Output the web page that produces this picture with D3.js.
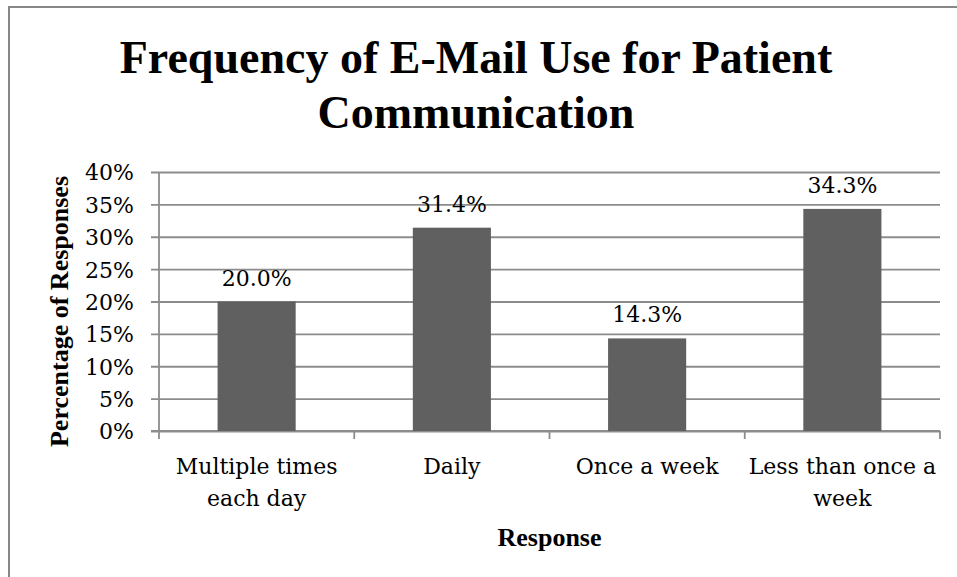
<!DOCTYPE html>
<html lang="en">
<head>
  <meta charset="UTF-8">
  <title>Frequency of E-Mail Use for Patient Communication</title>
  <script src="https://d3js.org/d3.v7.min.js"></script>
  <style>
    body {
      margin: 0;
      background: #fff;
    }
    .tick-label, .cat-label, .bar-label {
      font-family: 'DejaVu Serif', serif;
      font-size: 22px;
      fill: #000;
    }
    .chart-title, .axis-title {
      font-family: 'Liberation Serif', 'Times New Roman', serif;
      font-weight: bold;
      fill: #000;
    }
  </style>
</head>
<body>
  <svg id="chart" width="957" height="577"></svg>

  <script>
    // data
    const categories = [["Multiple times", "each day"], ["Daily"], ["Once a week"], ["Less than once a", "week"]];
    const values = [20.0, 31.4, 14.3, 34.3];
    const yTicks = [0, 5, 10, 15, 20, 25, 30, 35, 40];
    const titleLines = ["Frequency of E-Mail Use for Patient", "Communication"];

    const W = 957, H = 577;
    const margin = { top: 172, right: 17, bottom: 146, left: 159 };
    const width = W - margin.left - margin.right;
    const height = H - margin.top - margin.bottom;
    const gridColor = "#8c8c8c";

    const svg = d3.select("#chart");

    // outer frame (only top and left show inside the window)
    svg.append("path")
      .attr("d", `M9,${H} V7 H${W}`)
      .attr("fill", "none")
      .attr("stroke", "#878787")
      .attr("stroke-width", 2);

    // title
    svg.append("text")
      .attr("class", "chart-title")
      .attr("text-anchor", "middle")
      .style("font-size", "46px")
      .selectAll("tspan")
      .data(titleLines)
      .enter()
      .append("tspan")
      .attr("x", 476)
      .attr("y", (d, i) => 73 + i * 55)
      .text(d => d);

    const g = svg.append("g")
      .attr("transform", `translate(${margin.left},${margin.top})`);

    const keys = categories.map(c => c.join(" "));

    const x = d3.scaleBand()
      .domain(keys)
      .range([0, width])
      .paddingInner(0.6)
      .paddingOuter(0.3);

    const xEdges = d3.scaleLinear()
      .domain([0, keys.length])
      .range([0, width]);

    const y = d3.scaleLinear()
      .domain([0, 40])
      .range([height, 0]);

    // gridlines + y axis
    const yAxis = g.append("g")
      .call(d3.axisLeft(y).tickValues(yTicks).tickSize(-width).tickFormat(d => d + "%"));
    yAxis.attr("font-size", null).attr("font-family", null);
    yAxis.select(".domain").remove();
    yAxis.selectAll(".tick line")
      .attr("x1", -8)
      .attr("stroke", gridColor)
      .attr("stroke-width", 1.8);
    yAxis.selectAll(".tick text")
      .attr("class", "tick-label")
      .attr("x", -25)
      .attr("dy", "0.36em");

    g.append("line")
      .attr("x1", 0).attr("x2", 0)
      .attr("y1", 0).attr("y2", height)
      .attr("stroke", gridColor)
      .attr("stroke-width", 1.8);

    // x axis line and ticks at category boundaries
    g.append("line")
      .attr("x1", -8).attr("x2", width)
      .attr("y1", height).attr("y2", height)
      .attr("stroke", gridColor)
      .attr("stroke-width", 1.8);
    g.selectAll(".xtick")
      .data(d3.range(keys.length + 1))
      .enter()
      .append("line")
      .attr("x1", d => xEdges(d)).attr("x2", d => xEdges(d))
      .attr("y1", height).attr("y2", height + 8)
      .attr("stroke", gridColor)
      .attr("stroke-width", 1.8);

    // bars
    g.selectAll(".bar")
      .data(values)
      .enter()
      .append("rect")
      .attr("x", (d, i) => x(keys[i]))
      .attr("y", d => y(d))
      .attr("width", x.bandwidth())
      .attr("height", d => height - y(d))
      .attr("fill", "#606060");

    // value labels
    g.selectAll(".bar-label")
      .data(values)
      .enter()
      .append("text")
      .attr("class", "bar-label")
      .attr("text-anchor", "middle")
      .attr("x", (d, i) => x(keys[i]) + x.bandwidth() / 2)
      .attr("y", d => y(d) - 16)
      .text(d => d.toFixed(1) + "%");

    // category labels
    const cat = g.selectAll(".cat-label")
      .data(categories)
      .enter()
      .append("text")
      .attr("class", "cat-label")
      .attr("text-anchor", "middle");
    cat.selectAll("tspan")
      .data((d, i) => d.map(line => ({ line, i })))
      .enter()
      .append("tspan")
      .attr("x", d => x(keys[d.i]) + x.bandwidth() / 2)
      .attr("y", (d, j) => height + 43 + j * 32)
      .text(d => d.line);

    // axis titles
    g.append("text")
      .attr("class", "axis-title")
      .attr("text-anchor", "middle")
      .style("font-size", "26px")
      .attr("x", width / 2)
      .attr("y", height + 115)
      .text("Response");

    svg.append("text")
      .attr("class", "axis-title")
      .attr("text-anchor", "middle")
      .style("font-size", "26px")
      .attr("transform", `translate(68, ${margin.top + height / 2 + 10}) rotate(-90)`)
      .text("Percentage of Responses");
  </script>
</body>
</html>
